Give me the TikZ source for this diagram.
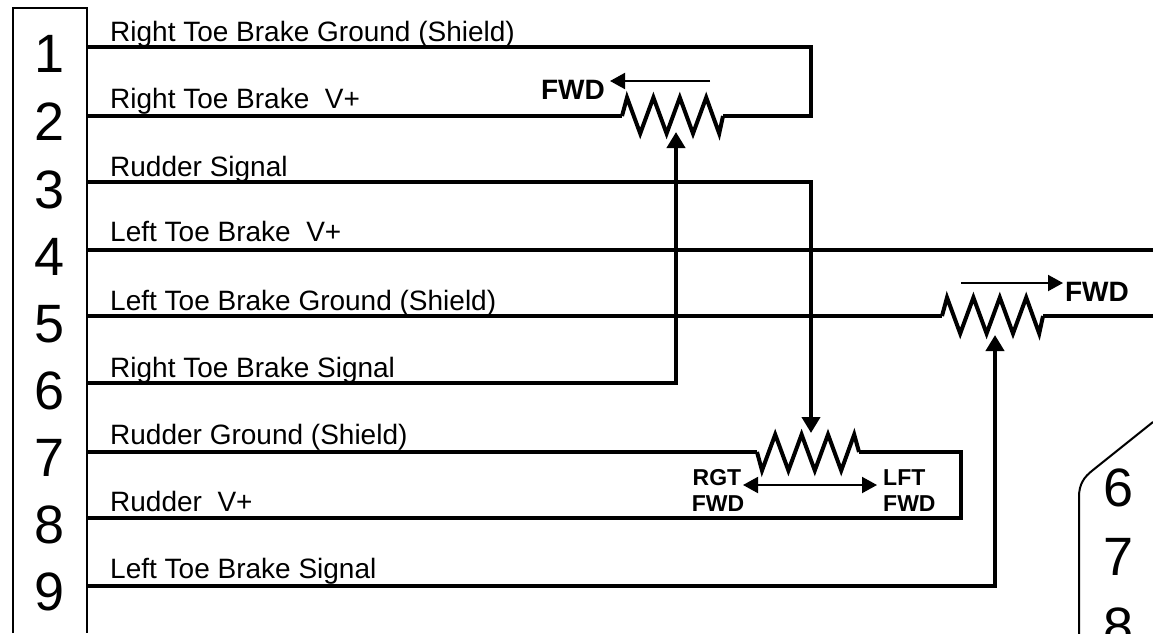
\documentclass[tikz,border=0pt]{standalone}
\usepackage{fontspec}
\setmainfont{Liberation Sans}
\usetikzlibrary{arrows.meta}
\tikzset{wire/.style={line width=4pt, line join=miter},
housing/.style={line width=2pt},
wiper/.style={wire, -{Triangle[length=16pt,width=18pt]}},
fwdarrow/.style={line width=2pt, -{Triangle[length=15pt,width=16pt]}},
pinnum/.style={inner sep=0pt, font=\fontsize{54}{54}\selectfont},
label/.style={anchor=base west, inner sep=0pt, font=\fontsize{28}{28}\selectfont},
fwd/.style={inner sep=0pt, font=\fontsize{28}{28}\selectfont\bfseries},
fwdsmall/.style={inner sep=0pt, font=\fontsize{23}{23}\selectfont\bfseries}}
% zigzag of a pot, #3 is the side of the first swing
\newcommand{\potzig}[3]{\draw [wire] (#1) -- ++(5,{-18.5*#3}) -- ++(13.2,{36*#3}) -- ++(13.2,{-36*#3})
  -- ++(13.2,{36*#3}) -- ++(13.2,{-36*#3}) -- ++(13.2,{36*#3}) -- ++(13.2,{-36*#3}) -- ++(13,{36*#3}) -- (#2);}
\begin{document}
\begin{tikzpicture}[x=1pt,y=-1pt]
  \useasboundingbox (0,0) rectangle (1153,633);
  \clip (0,0) rectangle (1153,633);

  % connector housing
  \coordinate (hboxa) at (13,633);
  \coordinate (hboxb) at (13,8);
  \coordinate (hboxc) at (87,8);
  \coordinate (hboxd) at (87,633);
  \draw [housing] (hboxa) -- (hboxb) -- (hboxc) -- (hboxd);
  \foreach \num/\ypos in {1/54,2/122,3/190,4/257,5/324,6/391,7/458,8/525,9/592}
    \node (num\num) [pinnum] at (50,\ypos) {\num};

  % pins
  \coordinate (pin1) at (86,47);
  \coordinate (pin2) at (86,116);
  \coordinate (pin3) at (86,182);
  \coordinate (pin4) at (86,250);
  \coordinate (pin5) at (86,316);
  \coordinate (pin6) at (86,383);
  \coordinate (pin7) at (86,452);
  \coordinate (pin8) at (86,518);
  \coordinate (pin9) at (86,586);

  \node (lab1) [label] at (110,41) {Right Toe Brake Ground (Shield)};
  \node (lab2) [label] at (110,108) {Right Toe Brake\ \ V+};
  \node (lab3) [label] at (110,176) {Rudder Signal};
  \node (lab4) [label] at (110,241) {Left Toe Brake\ \ V+};
  \node (lab5) [label] at (110,310) {Left Toe Brake Ground (Shield)};
  \node (lab6) [label] at (110,377) {Right Toe Brake Signal};
  \node (lab7) [label] at (110,444) {Rudder Ground (Shield)};
  \node (lab8) [label] at (110,511) {Rudder\ \ V+};
  \node (lab9) [label] at (110,578) {Left Toe Brake Signal};

  % right toe brake pot
  \coordinate (rpotin) at (622,116);
  \coordinate (rpotout) at (723,116);
  \coordinate (rcorna) at (811,47);
  \coordinate (rcornb) at (811,116);
  \coordinate (rwipcorn) at (676,383);
  \coordinate (rwiptip) at (676,132);
  \potzig{rpotin}{rpotout}{1}
  \draw [wire] (pin2) -- (rpotin);
  \draw [wire] (pin1) -- (rcorna) -- (rcornb) -- (rpotout);
  \draw [wiper] (pin6) -- (rwipcorn) -- (rwiptip);
  \coordinate (rfwda) at (710,81);
  \coordinate (rfwdb) at (610,81);
  \draw [fwdarrow] (rfwda) -- (rfwdb);
  \node (rfwd) [fwd] at (573,90) {FWD};

  % left toe brake pot
  \coordinate (lpotin) at (942,316);
  \coordinate (lpotout) at (1043,316);
  \coordinate (lend) at (1153,316);
  \coordinate (pin4end) at (1153,250);
  \coordinate (lwipcorn) at (995,586);
  \coordinate (lwiptip) at (995,335);
  \potzig{lpotin}{lpotout}{1}
  \draw [wire] (pin4) -- (pin4end);
  \draw [wire] (pin5) -- (lpotin);
  \draw [wire] (lpotout) -- (lend);
  \draw [wiper] (pin9) -- (lwipcorn) -- (lwiptip);
  \coordinate (lfwda) at (961,283);
  \coordinate (lfwdb) at (1063,283);
  \draw [fwdarrow] (lfwda) -- (lfwdb);
  \node (lfwd) [fwd] at (1097,292) {FWD};

  % rudder pot
  \coordinate (upotin) at (757,452);
  \coordinate (upotout) at (859,452);
  \coordinate (ucorna) at (961,452);
  \coordinate (ucornb) at (961,518);
  \coordinate (uwipcorn) at (811,182);
  \coordinate (uwiptip) at (811,433);
  \potzig{upotin}{upotout}{-1}
  \draw [wire] (pin7) -- (upotin);
  \draw [wire] (upotout) -- (ucorna) -- (ucornb) -- (pin8);
  \draw [wiper] (pin3) -- (uwipcorn) -- (uwiptip);
  \coordinate (ufwda) at (743,485);
  \coordinate (ufwdb) at (877,485);
  \draw [fwdarrow, {Triangle[length=15pt,width=16pt]}-{Triangle[length=15pt,width=16pt]}] (ufwda) -- (ufwdb);
  \node (urgt) [fwdsmall] at (717,478) {RGT};
  \node (urfwd) [fwdsmall] at (718,504) {FWD};
  \node (ulft) [fwdsmall, anchor=west] at (883,478) {LFT};
  \node (ulfwd) [fwdsmall, anchor=west] at (883,504) {FWD};

  % second connector shell
  \coordinate (shella) at (1079,640);
  \coordinate (shellb) at (1079,497);
  \coordinate (shellc) at (1093,470);
  \coordinate (shelld) at (1153,422);
  \draw [housing] (shella) -- (shellb) .. controls (1079,484) and (1084,477) .. (shellc) -- (shelld);
  \foreach \num/\ypos in {6/488,7/557,8/627}
    \node (snum\num) [pinnum] at (1118,\ypos) {\num};
\end{tikzpicture}
\end{document}
